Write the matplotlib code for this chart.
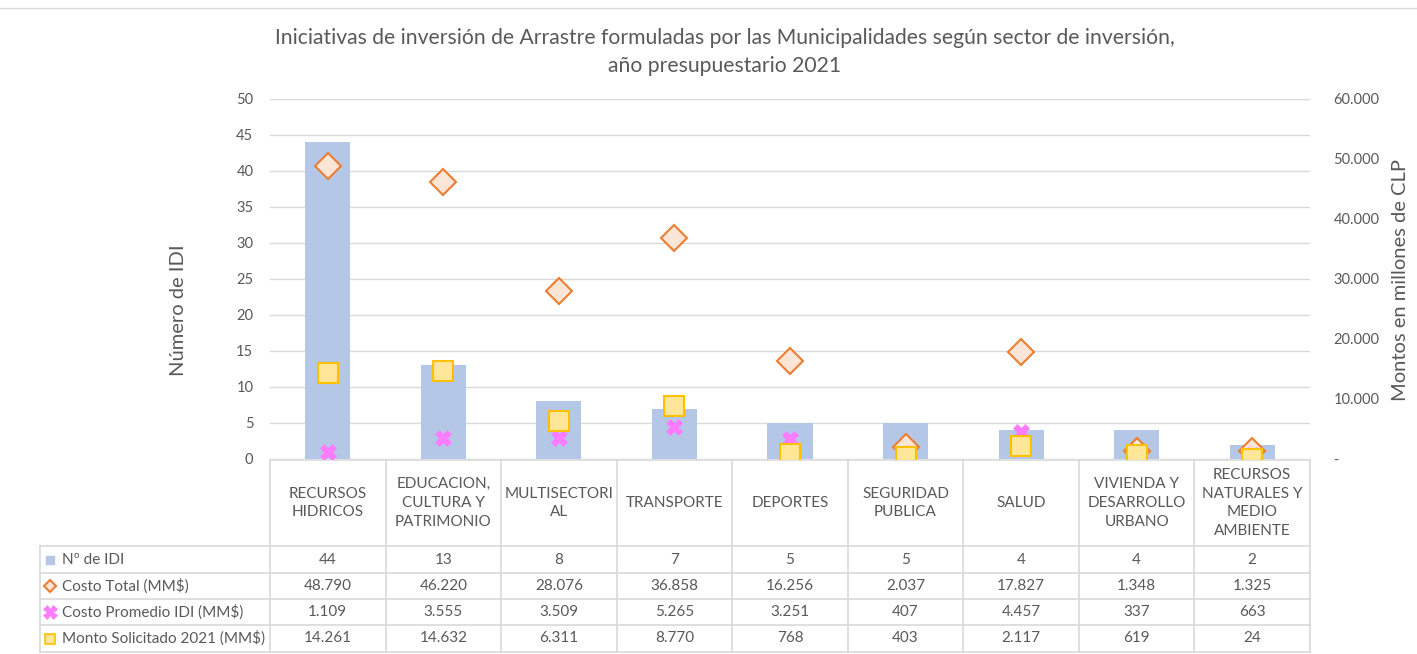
import matplotlib
matplotlib.use("Agg")
import matplotlib.pyplot as plt
from matplotlib.lines import Line2D
from matplotlib.transforms import blended_transform_factory
from matplotlib.ticker import FuncFormatter, MultipleLocator

plt.rcParams['font.family'] = ['Lato', 'DejaVu Sans']

categories = ["RECURSOS\nHIDRICOS", "EDUCACION,\nCULTURA Y\nPATRIMONIO", "MULTISECTORI\nAL",
              "TRANSPORTE", "DEPORTES", "SEGURIDAD\nPUBLICA", "SALUD",
              "VIVIENDA Y\nDESARROLLO\nURBANO", "RECURSOS\nNATURALES Y\nMEDIO\nAMBIENTE"]
n_idi = [44, 13, 8, 7, 5, 5, 4, 4, 2]
costo_total = [48790, 46220, 28076, 36858, 16256, 2037, 17827, 1348, 1325]
costo_promedio = [1109, 3555, 3509, 5265, 3251, 407, 4457, 337, 663]
monto_solicitado = [14261, 14632, 6311, 8770, 768, 403, 2117, 619, 24]
series_names = ["Nº de IDI", "Costo Total (MM$)", "Costo Promedio IDI (MM$)", "Monto Solicitado 2021 (MM$)"]
title = "Iniciativas de inversión de Arrastre formuladas por las Municipalidades según sector de inversión,\naño presupuestario 2021"

GRAY = '#595959'
GRID = '#D9D9D9'
W, H = 1417, 654

fig = plt.figure(figsize=(W / 100, H / 100), dpi=100)
L, R, T, B = 270, 1310, 99, 459
ax = fig.add_axes([L / W, 1 - B / H, (R - L) / W, (B - T) / H])
x = list(range(len(categories)))
ax.set_xlim(-0.5, len(categories) - 0.5)
ax.set_ylim(0, 50)
ax.bar(x, n_idi, width=0.39, color='#B4C7E7', zorder=2)
ax.yaxis.set_major_locator(MultipleLocator(5))
ax.yaxis.grid(True, color=GRID, lw=1)
ax.set_axisbelow(True)
for s in ax.spines.values():
    s.set_visible(False)
ax.set_xticks([])
ax.tick_params(axis='y', length=0, labelsize=10.5, labelcolor=GRAY, pad=12)
fig.text(178 / W, 1 - 310 / H, "Número de IDI", rotation=90, ha='center', va='center',
         fontsize=14.5, color=GRAY)

ax2 = ax.twinx()
ax2.set_ylim(0, 60000)
ax2.yaxis.set_major_locator(MultipleLocator(10000))
ax2.yaxis.set_major_formatter(FuncFormatter(lambda v, p: '-' if v == 0 else f"{int(v):,}".replace(',', '.')))
for s in ax2.spines.values():
    s.set_visible(False)
ax2.tick_params(axis='y', length=0, labelsize=10.5, labelcolor=GRAY, pad=17)
fig.text(1401 / W, 1 - 280 / H, "Montos en millones de CLP", rotation=90, ha='center', va='center',
         fontsize=14.5, color=GRAY)

ax2.plot(x, costo_total, ls='none', marker='D', ms=13, mfc='#FBE5D6', mec='#ED7D31', mew=1.5, zorder=3)
ax2.plot(x, costo_promedio, ls='none', marker='X', ms=12, mfc='#FF7CFF', mec='#FF7CFF', mew=0.5, zorder=4)
ax2.plot(x, monto_solicitado, ls='none', marker='s', ms=15, mfc='#FFE699', mec='#FFC000', mew=1.5, zorder=5)

fig.text(725 / W, 1 - 52 / H, title, ha='center', va='center', fontsize=15.2, color=GRAY, linespacing=1.55)

# top border
fig.add_artist(Line2D([0, 1], [1 - 8 / H, 1 - 8 / H], color=GRID, lw=1, transform=fig.transFigure))

# data table
tr = blended_transform_factory(ax.transData, ax.transAxes)
def ay(py):
    return (B - py) / (B - T)
x0 = -0.5
xleft = -0.5 + (40 - L) / (R - L) * len(categories)
xright = len(categories) - 0.5
rows = [460, 546, 573, 599, 625, 652]
kw = dict(color=GRID, lw=1.2, transform=tr, clip_on=False)
ax.add_line(Line2D([x0, xright], [ay(rows[0])] * 2, **kw))
for py in rows[1:]:
    ax.add_line(Line2D([xleft, xright], [ay(py)] * 2, **kw))
for k in range(len(categories) + 1):
    ax.add_line(Line2D([x0 + k] * 2, [ay(rows[0]), ay(rows[-1])], **kw))
ax.add_line(Line2D([xleft] * 2, [ay(rows[1]), ay(rows[-1])], **kw))

for i, c in enumerate(categories):
    ax.text(i, ay((rows[0] + rows[1]) / 2), c, ha='center', va='center', fontsize=11,
            color=GRAY, transform=tr, linespacing=1.45)

def fmt(v):
    return f"{v:,}".replace(',', '.')
table_series = [n_idi, costo_total, costo_promedio, monto_solicitado]
for r, vals in enumerate(table_series):
    yc = ay((rows[r + 1] + rows[r + 2]) / 2)
    for i, v in enumerate(vals):
        ax.text(i, yc, fmt(v), ha='center', va='center', fontsize=11, color=GRAY, transform=tr)
    ax.text(xleft + 0.19, yc, series_names[r], ha='left', va='center', fontsize=11, color=GRAY, transform=tr)

mk = [dict(marker='s', ms=6, mfc='#B4C7E7', mec='#B4C7E7'),
      dict(marker='D', ms=6, mfc='#FBE5D6', mec='#ED7D31', mew=1.5),
      dict(marker='X', ms=10, mfc='#FF7CFF', mec='#FF7CFF', mew=0.5),
      dict(marker='s', ms=7, mfc='#FFE699', mec='#FFC000', mew=1.2)]
for r, m in enumerate(mk):
    yc = ay((rows[r + 1] + rows[r + 2]) / 2)
    ax.add_line(Line2D([xleft + 0.09], [yc], ls='none', transform=tr, clip_on=False, **m))

fig.savefig("out.png", dpi=100, facecolor='white')
